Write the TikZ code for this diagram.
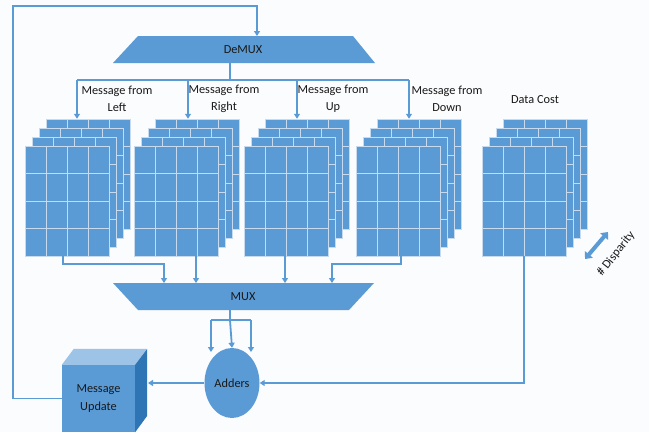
\documentclass[tikz,border=0pt]{standalone}
\usepackage{fontspec}
\setmainfont{Carlito}
\usetikzlibrary{arrows.meta,calc,shapes.geometric}
\definecolor{mblue}{HTML}{5B9BD5}
\definecolor{gridc}{HTML}{C8DBEE}
\definecolor{topc}{HTML}{9DC3E6}
\definecolor{sidec}{HTML}{2E75B6}
\definecolor{bgc}{HTML}{FBFCFE}
\begin{document}
\begin{tikzpicture}[x=1pt,y=-1pt,
  font=\fontsize{12.3}{17.5}\selectfont,
  conn/.style={draw=mblue,line width=1.8pt},
  arr/.style={conn,-{Triangle[length=5pt,width=6pt]}},
  lbl/.style={align=center,inner sep=0pt,text=black!90},
  layer/.style={rectangle,fill=mblue,draw=gridc,line width=0.5pt,
    minimum width=84pt,minimum height=110pt,inner sep=0pt,
    path picture={
      \foreach \f in {0.25,0.5,0.75}{
        \draw[gridc,line width=0.5pt]
          ($(path picture bounding box.north west)!\f!(path picture bounding box.north east)$) --
          ($(path picture bounding box.south west)!\f!(path picture bounding box.south east)$);
        \draw[gridc,line width=0.5pt]
          ($(path picture bounding box.north west)!\f!(path picture bounding box.south west)$) --
          ($(path picture bounding box.north east)!\f!(path picture bounding box.south east)$);
      }
    }}]
\useasboundingbox[fill=bgc] (0,0) rectangle (649,432);

% stacks of layers
\foreach \nm/\lx in {L/67,R/176,U/286,D/398,C/524}{
  \foreach \k in {3,2,1,0}{
    \node[layer] (\nm\k) at (\lx+7*\k, 201-9*\k) {};
  }
}

% DeMUX
\fill[mblue] (138,36) -- (353,36) -- (375,63) -- (113,63) -- cycle;
\node[lbl] (demux) at (243,50) {DeMUX};
\coordinate (demuxtop) at (257,36);
\coordinate (demuxout) at (230,63);

% MUX
\fill[mblue] (113,283) -- (374,283) -- (349,310) -- (138,310) -- cycle;
\node[lbl] (mux) at (243,297) {MUX};
\coordinate (muxout) at (230,310);

% labels
\node[lbl] (tL) at (117,99) {Message from\\Left};
\node[lbl] (tR) at (224,99) {Message from\\Right};
\node[lbl] (tU) at (333,99) {Message from\\Up};
\node[lbl] (tD) at (447,99) {Message from\\Down};
\node[lbl] (tC) at (535,100) {Data Cost};

% DeMUX bus
\coordinate (bL) at (77,80);
\coordinate (bR) at (188,80);
\coordinate (bU) at (297,80);
\coordinate (bD) at (409,80);
\draw[conn] (demuxout) -- (demuxout |- bL);
\draw[conn] (bL) -- (bD);
\draw[arr] (bL) -- (bL |- L3.north);
\draw[arr] (bR) -- (bR |- R3.north);
\draw[arr] (bU) -- (bU |- U3.north);
\draw[arr] (bD) -- (bD |- D3.north);

% stacks to MUX
\coordinate (m1) at (164,283);
\coordinate (m2) at (196,283);
\coordinate (m3) at (285,283);
\coordinate (m4) at (332,283);
\coordinate (j1) at (164,264);
\coordinate (j4) at (332,264);
\draw[arr] ([xshift=-4pt]L0.south) |- (j1) -- (m1);
\draw[arr] (m2 |- R0.south) -- (m2);
\draw[arr] (m3 |- U0.south) -- (m3);
\draw[arr] ([xshift=3pt]D0.south) |- (j4) -- (m4);

% Adders
\node[ellipse,fill=mblue,minimum width=55pt,minimum height=70pt,inner sep=0pt,text=black!90] (adders) at (232,383) {Adders};
\coordinate (s0) at (230,320);
\coordinate (s1) at (211,320);
\coordinate (s3) at (251,320);
\coordinate (a1) at (211,352);
\coordinate (a3) at (251,352);
\draw[conn] (muxout) -- (s0);
\draw[conn] (s1) -- (s3);
\draw[arr] (s1) -- (a1);
\draw[arr] (s3) -- (a3);
\draw[arr] (s0) -- (adders.north);

% data cost to adders
\draw[arr] (C0.south) |- (adders.east);

% Message update cube
\node[rectangle,fill=mblue,minimum width=73pt,minimum height=67pt,inner sep=0pt,align=center,text=black!90] (mu) at (98.5,398.5) {Message\\Update};
\fill[topc] (mu.north west) -- ++(12,-16) -- ++(73,0) -- (mu.north east) -- cycle;
\fill[sidec] (mu.north east) -- ++(12,-16) -- ++(0,67) -- (mu.south east) -- cycle;
\coordinate (muside) at (148,383);
\draw[arr] (adders.west) -- (muside);

% feedback
\coordinate (fbA) at (13,6);
\draw[arr] (mu.west) -| (fbA) -- (fbA -| demuxtop) -- (demuxtop);

% disparity
\coordinate (dA) at (585,259);
\coordinate (dB) at (608,232);
\draw[mblue,line width=4pt,{Triangle[length=6pt,width=10pt]}-{Triangle[length=6pt,width=10pt]}] (dA) -- (dB);
\node[lbl,rotate=52] (disp) at (616,254) {\# Disparity};
\end{tikzpicture}
\end{document}
